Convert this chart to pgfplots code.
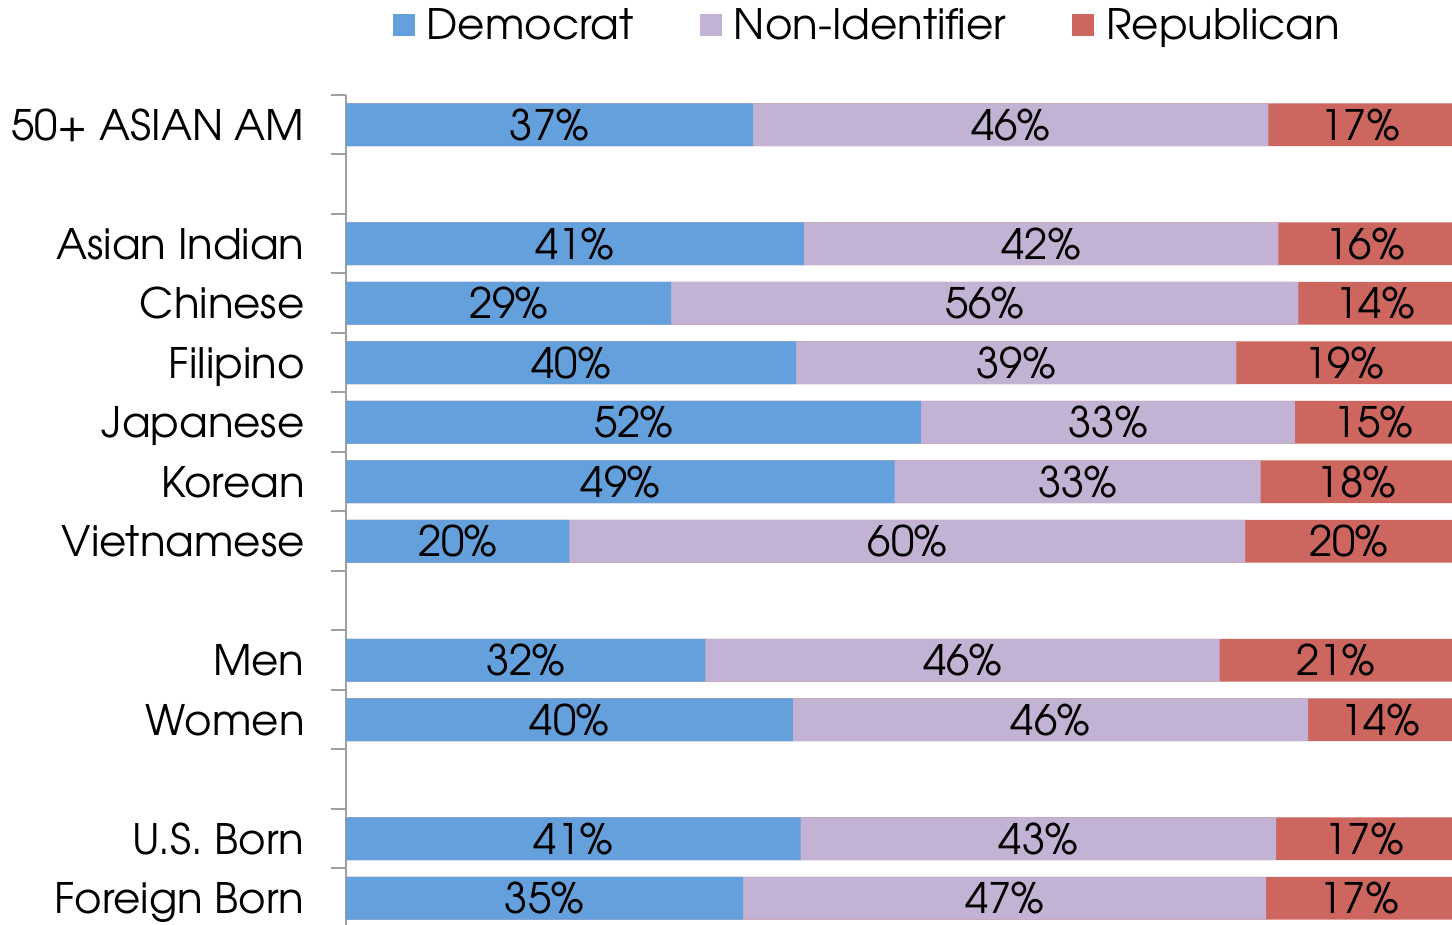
\documentclass[border=0pt]{standalone}
\usepackage{fontspec}
\setmainfont{TeX Gyre Adventor}
\usepackage{pgfplots}
\usepackage{pgfplotstable}
\pgfplotsset{compat=1.18}
\definecolor{demc}{RGB}{100,160,220}
\definecolor{nonc}{RGB}{194,178,212}
\definecolor{repc}{RGB}{204,102,94}
\definecolor{axc}{RGB}{160,160,160}
\pgfplotstableread{
y dem non rep dl nl rl
0 36.8 46.6 16.6 37 46 17
2 41.4 42.9 15.7 41 42 16
3 29.4 56.7 13.9 29 56 14
4 40.7 39.8 19.5 40 39 19
5 52.0 33.8 14.2 52 33 15
6 49.6 33.1 17.3 49 33 18
7 20.2 61.1 18.7 20 60 20
9 32.5 46.5 21.0 32 46 21
10 40.4 46.6 13.0 40 46 14
12 41.1 43.0 15.9 41 43 17
13 35.9 47.3 16.8 35 47 17
}\data
\begin{document}
\begin{tikzpicture}
\begin{axis}[
  name=ax,
  scale only axis,
  width=553pt, height=415pt,
  xmin=0, xmax=100,
  ymin=-0.5, ymax=13.45,
  y dir=reverse,
  axis x line=none,
  axis y line*=left,
  y axis line style={color=axc, line width=1pt},
  ytick={0,2,3,4,5,6,7,9,10,12,13},
  yticklabels={50+ ASIAN AM, Asian Indian, Chinese, Filipino, Japanese, Korean, Vietnamese, Men, Women, U.S. Born, Foreign Born},
  major tick length=0pt,
  minor ytick={-0.5,0.5,1.5,2.5,3.5,4.5,5.5,6.5,7.5,8.5,9.5,10.5,11.5,12.5},
  minor tick length=7.5pt,
  tick align=outside,
  ytick pos=left,
  minor tick style={color=axc, line width=1pt},
  yticklabel style={font=\fontsize{21}{25}\selectfont, anchor=base east, inner sep=0pt, xshift=-20.5pt, yshift=-7.8pt},
  legend style={draw=none, fill=none, at={(0.476,1.084)}, anchor=center, legend columns=-1,
    font=\fontsize{21}{25}\selectfont, /tikz/every even column/.append style={column sep=27pt},
    /tikz/every odd column/.append style={column sep=0pt}},
  legend image code/.code={\fill[#1, draw=none] (0pt,-5.5pt) rectangle (11pt,5.5pt);},
  legend style={nodes={inner xsep=6pt}},
  bar width=0.72,
]
\addlegendimage{fill=demc}\addlegendentry{Democrat}
\addlegendimage{fill=nonc}\addlegendentry{Non-Identifier}
\addlegendimage{fill=repc}\addlegendentry{Republican}
\addplot[xbar, bar shift=0pt, fill=repc, draw=none, forget plot] table[x expr=\thisrow{dem}+\thisrow{non}+\thisrow{rep}+2, y=y]{\data};
\addplot[xbar, bar shift=0pt, fill=nonc, draw=none, forget plot] table[x expr=\thisrow{dem}+\thisrow{non}, y=y]{\data};
\addplot[xbar, bar shift=0pt, fill=demc, draw=none, forget plot] table[x=dem, y=y]{\data};
\pgfplotsset{lbl/.style={draw=none, mark=none, forget plot, nodes near coords={\pgfplotspointmeta\%}, point meta=explicit symbolic,
  every node near coord/.append style={anchor=base, inner sep=0pt, yshift=-7.8pt, font=\fontsize{21}{25}\selectfont, text=black}}}
\addplot[lbl] table[x expr=\thisrow{dem}/2, y=y, meta=dl]{\data};
\addplot[lbl] table[x expr=\thisrow{dem}+\thisrow{non}/2, y=y, meta=nl]{\data};
\addplot[lbl] table[x expr=\thisrow{dem}+\thisrow{non}+\thisrow{rep}/2, y=y, meta=rl]{\data};
\end{axis}
\pgfresetboundingbox
\path[use as bounding box] ([xshift=-173pt, yshift=47.5pt]ax.north west) rectangle (ax.south east);
\end{tikzpicture}
\end{document}
